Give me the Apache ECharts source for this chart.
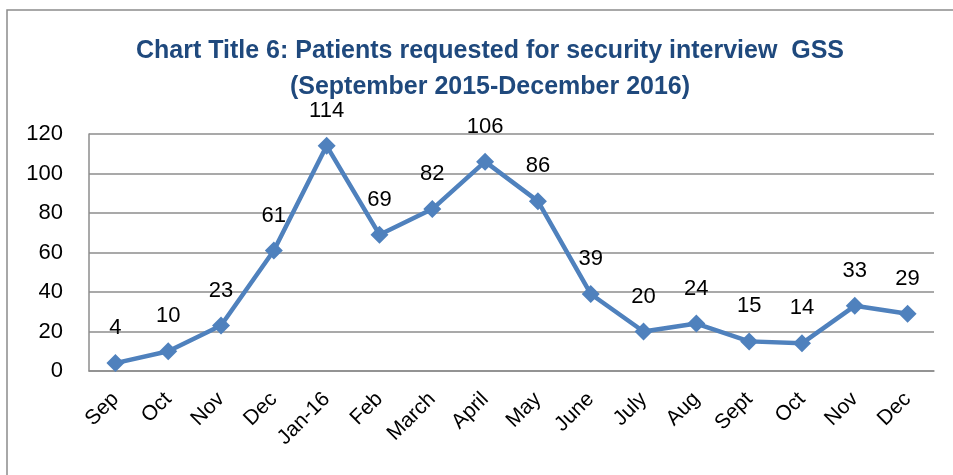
<!DOCTYPE html>
<html>
<head>
<meta charset="utf-8">
<script src="https://cdn.jsdelivr.net/npm/echarts@6/dist/echarts.min.js"></script>
<style>
  html, body { margin: 0; padding: 0; background: #fff; }
  #chart { width: 953px; height: 475px; }
</style>
</head>
<body>
<div id="chart"></div>
<script>
// chart data
const months = ['Sep', 'Oct', 'Nov', 'Dec', 'Jan-16', 'Feb', 'March', 'April', 'May', 'June', 'July', 'Aug', 'Sept', 'Oct', 'Nov', 'Dec']
const patients = [4, 10, 23, 61, 114, 69, 82, 106, 86, 39, 20, 24, 15, 14, 33, 29]
const titleLines = ['Chart Title 6: Patients requested for security interview  GSS', '(September 2015-December 2016)']

const chart = echarts.init(document.getElementById('chart'))

const option = {
  animation: false,
  // outer chart border
  graphic: [
    {
      type: 'rect',
      shape: { x: 7, y: 10, width: 960, height: 480 },
      style: { fill: 'none', stroke: '#8c8c8c', lineWidth: 1.5 }
    }
  ],
  title: {
    text: titleLines.join('\n'),
    left: 485,
    top: 28,
    textAlign: 'center',
    textStyle: {
      fontFamily: 'Liberation Sans',
      fontWeight: 'bold',
      fontSize: 25,
      lineHeight: 36,
      color: '#1f497d'
    }
  },
  grid: {
    left: 89,
    right: 19,
    top: 134,
    bottom: 104
  },
  xAxis: {
    type: 'category',
    data: months,
    boundaryGap: true,
    axisLine: { lineStyle: { color: '#8c8c8c', width: 1.5 } },
    axisTick: { show: false },
    axisLabel: {
      rotate: 45,
      interval: 0,
      margin: 25,
      fontFamily: 'Liberation Sans',
      fontSize: 21,
      color: '#000'
    }
  },
  yAxis: {
    type: 'value',
    min: 0,
    max: 120,
    interval: 20,
    axisLine: { show: true, lineStyle: { color: '#8c8c8c', width: 1.5 } },
    axisTick: { show: false },
    splitLine: { lineStyle: { color: '#8c8c8c', width: 1.5 } },
    axisLabel: {
      margin: 26,
      fontFamily: 'Liberation Sans',
      fontSize: 22,
      color: '#000'
    }
  },
  series: [
    {
      type: 'line',
      data: patients,
      symbol: 'diamond',
      symbolSize: 18,
      lineStyle: { color: '#4f81bd', width: 4.5 },
      itemStyle: { color: '#4f81bd' },
      label: {
        show: true,
        position: 'top',
        distance: 15,
        fontFamily: 'Liberation Sans',
        fontSize: 22,
        color: '#000'
      }
    }
  ]
}

chart.setOption(option)
</script>
</body>
</html>
